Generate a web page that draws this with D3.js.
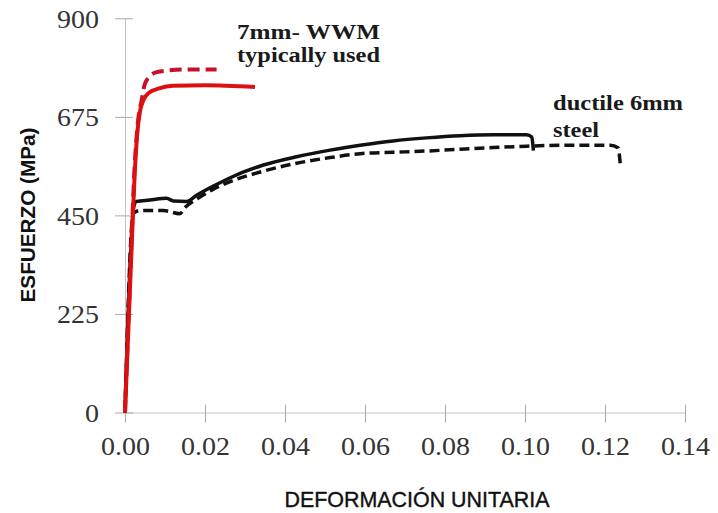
<!DOCTYPE html>
<meta charset="utf-8">
<script src="https://d3js.org/d3.v7.min.js"></script>
<style>
    body { margin: 0; background: #fff; }
    .tick text { font-family: 'Liberation Serif', 'Times New Roman', serif; font-size: 25px; fill: #333; }
    .axis-title { font-family: 'Liberation Sans', Arial, sans-serif; fill: #111; }
    .note { font-family: 'Liberation Serif', 'Times New Roman', serif; font-weight: bold; fill: #1a1a1a; }
</style>
<div id="chart"></div>
<script>
    // strain (mm/mm), stress (MPa)
    let wwmSolid = [[0, 0], [0.0018, 410], [0.0024, 540], [0.003, 630], [0.0037, 685], [0.0047, 715],
        [0.006, 730], [0.0085, 740], [0.012, 746], [0.02, 747], [0.0325, 743]];
    let wwmDashed = [[0, 0], [0.0017, 410], [0.0024, 560], [0.0032, 660], [0.0042, 715], [0.0048, 745],
        [0.006, 766], [0.0079, 777], [0.011, 781], [0.015, 783], [0.0229, 783]];
    let ductileSolid = [[0, 0], [0.0022, 470], [0.0029, 482], [0.0062, 485], [0.0104, 489], [0.0121, 483],
        [0.0154, 482], [0.0179, 496], [0.0221, 517], [0.0263, 536], [0.0346, 565], [0.0429, 584],
        [0.0513, 599], [0.0588, 610], [0.067, 620], [0.0754, 627], [0.0838, 632], [0.0921, 634],
        [0.1004, 634], [0.1017, 629], [0.1021, 598]];
    let ductileDashed = [[0, 0], [0.0021, 455], [0.0037, 461], [0.0096, 461], [0.0137, 454], [0.015, 468],
        [0.0179, 487], [0.0221, 510], [0.0263, 527], [0.0346, 551], [0.0429, 569], [0.0513, 582],
        [0.0588, 591], [0.067, 594], [0.0754, 597], [0.0838, 601], [0.0921, 605], [0.1004, 608],
        [0.1088, 610], [0.1213, 610], [0.1233, 604], [0.1238, 569]];

    let xTicks = [0, 0.02, 0.04, 0.06, 0.08, 0.10, 0.12, 0.14];
    let yTicks = [0, 225, 450, 675, 900];

    let width = 718, height = 513;

    let svg = d3.select("#chart")
        .append("svg")
        .attr("width", width)
        .attr("height", height);

    let x = d3.scaleLinear().domain([0, 0.14]).range([125, 685]);
    let y = d3.scaleLinear().domain([0, 900]).range([412.5, 18.3]);

    // axes, excel style crossing ticks
    let xAxis = svg.append("g")
        .attr("transform", "translate(0," + y(0) + ")")
        .call(d3.axisBottom(x).tickValues(xTicks).tickFormat(d3.format(".2f")).tickSizeOuter(0));
    xAxis.select(".domain").attr("stroke", "#c4c4c4");
    xAxis.selectAll(".tick line").attr("stroke", "#a8a8a8").attr("y1", -8).attr("y2", 10);
    xAxis.selectAll(".tick text").attr("y", 0).attr("dy", 0)
        .attr("transform", "translate(0,42.5) scale(1.12,1)");

    let yAxis = svg.append("g")
        .attr("transform", "translate(" + x(0) + ",0)")
        .call(d3.axisLeft(y).tickValues(yTicks).tickSizeOuter(0));
    yAxis.select(".domain").attr("stroke", "#c4c4c4");
    yAxis.selectAll(".tick line").attr("stroke", "#a8a8a8").attr("x1", -10).attr("x2", 8);
    yAxis.selectAll(".tick text").attr("x", 0)
        .attr("transform", "translate(-26,1) scale(1.12,1)");

    // axis titles
    svg.append("text")
        .attr("class", "axis-title")
        .attr("x", 417).attr("y", 507)
        .attr("text-anchor", "middle")
        .style("font-size", "22px")
        .style("stroke", "#111").style("stroke-width", 0.4)
        .attr("textLength", 265).attr("lengthAdjust", "spacingAndGlyphs")
        .text("DEFORMACIÓN UNITARIA");

    svg.append("text")
        .attr("class", "axis-title")
        .attr("transform", "translate(35,215) rotate(-90)")
        .attr("text-anchor", "middle")
        .style("font-size", "20px").style("font-weight", "bold")
        .attr("textLength", 175).attr("lengthAdjust", "spacingAndGlyphs")
        .text("ESFUERZO (MPa)");

    // curves
    let line = d3.line()
        .x(d => x(d[0]))
        .y(d => y(d[1]))
        .curve(d3.curveMonotoneX);

    let series = [
        {data: ductileDashed, color: "#111", width: 3.5, dash: "10,5"},
        {data: ductileSolid, color: "#111", width: 3.5, dash: null},
        {data: wwmDashed, color: "#c8102e", width: 4, dash: "12,6"},
        {data: wwmSolid, color: "#dc1010", width: 4, dash: null}
    ];

    series.forEach(function (s) {
        svg.append("path")
            .datum(s.data)
            .attr("fill", "none")
            .attr("stroke", s.color)
            .attr("stroke-width", s.width)
            .attr("stroke-dasharray", s.dash)
            .attr("stroke-linejoin", "round")
            .attr("d", line);
    });

    // annotations
    let notes = [
        {text: "7mm- WWM", x: 237, y: 39, size: 20, len: 143},
        {text: "typically used", x: 237, y: 62, size: 20, len: 143},
        {text: "ductile 6mm", x: 553, y: 110, size: 22, len: 130},
        {text: "steel", x: 553, y: 137, size: 22, len: 46}
    ];
    notes.forEach(function (n) {
        svg.append("text")
            .attr("class", "note")
            .attr("x", n.x).attr("y", n.y)
            .style("font-size", n.size + "px")
            .attr("textLength", n.len).attr("lengthAdjust", "spacingAndGlyphs")
            .text(n.text);
    });
</script>
